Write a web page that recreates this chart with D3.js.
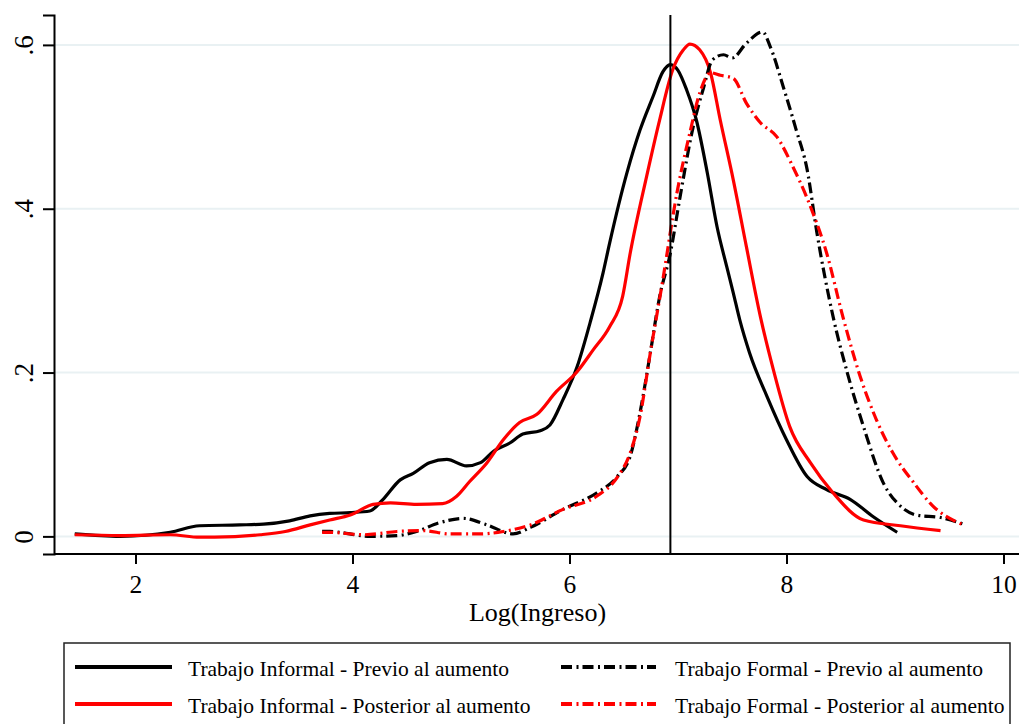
<!DOCTYPE html>
<html>
<head>
<meta charset="utf-8">
<script src="https://cdn.jsdelivr.net/npm/d3@7"></script>
<style>
	body { margin: 0; background: #fff; }
	svg { display: block; font-family: "Liberation Serif", "DejaVu Serif", serif; }
</style>
</head>
<body>
<div id="chart"></div>
<script>
// kernel density estimates (x = log income, y = density)
var infPrevX = [1.44, 1.86, 2.32, 2.59, 2.96, 3.18, 3.42, 3.61, 3.79, 3.98, 4.16, 4.28, 4.44, 4.56, 4.71, 4.87, 5.05, 5.18, 5.30, 5.45, 5.57, 5.73, 5.82, 5.94, 6.07, 6.19, 6.31, 6.37, 6.53, 6.65, 6.77, 6.86, 6.93, 7.00, 7.08, 7.17, 7.27, 7.36, 7.45, 7.51, 7.57, 7.66, 7.82, 8.00, 8.19, 8.37, 8.59, 8.80, 9.02];
var infPrevY = [0.003, 0.000, 0.005, 0.013, 0.014, 0.015, 0.019, 0.025, 0.028, 0.029, 0.031, 0.045, 0.069, 0.077, 0.090, 0.094, 0.086, 0.090, 0.104, 0.114, 0.125, 0.129, 0.136, 0.167, 0.207, 0.261, 0.322, 0.358, 0.444, 0.496, 0.537, 0.567, 0.576, 0.569, 0.545, 0.508, 0.444, 0.378, 0.329, 0.297, 0.264, 0.224, 0.171, 0.118, 0.073, 0.057, 0.045, 0.024, 0.005];

var infPostX = [1.44, 1.86, 2.32, 2.59, 2.73, 3.15, 3.38, 3.61, 3.79, 3.98, 4.19, 4.35, 4.59, 4.83, 4.96, 5.08, 5.24, 5.39, 5.54, 5.70, 5.88, 6.07, 6.22, 6.37, 6.49, 6.56, 6.71, 6.83, 6.95, 7.05, 7.11, 7.20, 7.30, 7.39, 7.51, 7.63, 7.76, 7.88, 8.03, 8.22, 8.43, 8.71, 9.05, 9.42];
var infPostY = [0.002, 0.001, 0.002, -0.001, -0.001, 0.002, 0.006, 0.014, 0.020, 0.026, 0.039, 0.041, 0.039, 0.040, 0.049, 0.067, 0.090, 0.118, 0.139, 0.149, 0.177, 0.201, 0.228, 0.256, 0.293, 0.346, 0.439, 0.508, 0.569, 0.594, 0.601, 0.594, 0.566, 0.508, 0.435, 0.354, 0.268, 0.203, 0.134, 0.090, 0.053, 0.020, 0.013, 0.007];

var forPrevX = [3.72, 3.79, 4.16, 4.41, 4.59, 4.81, 5.02, 5.24, 5.48, 5.64, 5.94, 6.25, 6.44, 6.56, 6.65, 6.74, 6.83, 6.93, 7.02, 7.14, 7.23, 7.32, 7.42, 7.50, 7.63, 7.78, 7.85, 7.97, 8.09, 8.19, 8.28, 8.43, 8.56, 8.71, 8.89, 9.05, 9.20, 9.42, 9.63];
var forPrevY = [0.006, 0.006, 0.000, 0.001, 0.006, 0.017, 0.022, 0.014, 0.003, 0.011, 0.033, 0.053, 0.073, 0.098, 0.151, 0.220, 0.292, 0.346, 0.415, 0.500, 0.545, 0.582, 0.588, 0.584, 0.602, 0.616, 0.598, 0.549, 0.496, 0.448, 0.371, 0.268, 0.200, 0.134, 0.066, 0.037, 0.026, 0.023, 0.015];

var forPostX = [3.72, 3.79, 4.10, 4.41, 4.65, 4.90, 5.18, 5.39, 5.64, 5.94, 6.25, 6.44, 6.56, 6.65, 6.74, 6.86, 6.99, 7.11, 7.20, 7.30, 7.39, 7.51, 7.63, 7.76, 7.91, 8.06, 8.22, 8.37, 8.52, 8.68, 8.83, 8.98, 9.17, 9.35, 9.63];
var forPostY = [0.005, 0.005, 0.002, 0.006, 0.007, 0.003, 0.003, 0.006, 0.014, 0.033, 0.049, 0.072, 0.102, 0.146, 0.220, 0.313, 0.419, 0.493, 0.541, 0.566, 0.563, 0.559, 0.529, 0.505, 0.488, 0.451, 0.403, 0.346, 0.268, 0.195, 0.142, 0.102, 0.066, 0.037, 0.014];

var xTicks = [2, 4, 6, 8, 10];
var yTicks = [0, 0.2, 0.4, 0.6];
var yTickLabels = ["0", ".2", ".4", ".6"];
var cutoff = 6.93; // log of the minimum wage

var seriesNames = ["Trabajo Informal - Previo al aumento", "Trabajo Informal - Posterior al aumento",
	"Trabajo Formal - Previo al aumento", "Trabajo Formal - Posterior al aumento"];

var width = 1019, height = 724;
var margin = {top: 15, right: 0, bottom: 170, left: 54};

var svg = d3.select("#chart").append("svg")
	.attr("width", width)
	.attr("height", height);

var x = d3.scaleLinear()
	.domain([1.249, 10.143])
	.range([margin.left, width - margin.right]);

var y = d3.scaleLinear()
	.domain([-0.0215, 0.6365])
	.range([height - margin.bottom, margin.top]);

// grid lines
svg.append("g").selectAll("line")
	.data(yTicks)
	.enter().append("line")
	.attr("x1", margin.left)
	.attr("x2", width)
	.attr("y1", function(d) { return y(d); })
	.attr("y2", function(d) { return y(d); })
	.attr("stroke", "#e9f1f3")
	.attr("stroke-width", 2);

// axes
var xAxis = svg.append("g")
	.attr("transform", "translate(0," + (height - margin.bottom) + ")")
	.call(d3.axisBottom(x).tickValues(xTicks).tickSize(10).tickPadding(11).tickFormat(d3.format("d")));

var yAxis = svg.append("g")
	.attr("transform", "translate(" + margin.left + ",0)")
	.call(d3.axisLeft(y).tickValues(yTicks).tickSize(11).tickPadding(9)
		.tickFormat(function(d, i) { return yTickLabels[i]; }));

[xAxis, yAxis].forEach(function(g) {
	g.select(".domain").attr("stroke", "#000").attr("stroke-width", 2);
	g.selectAll(".tick line").attr("stroke", "#000").attr("stroke-width", 2);
	g.selectAll("text").attr("fill", "#000").attr("font-size", 25.5)
		.attr("font-family", "Liberation Serif, serif");
});
xAxis.select(".domain").attr("d", "M" + margin.left + ",0H" + width);
yAxis.selectAll(".tick text")
	.attr("x", null).attr("dy", null)
	.attr("font-size", 27)
	.attr("text-anchor", "middle")
	.attr("transform", "translate(-21,0) rotate(-90)");

svg.append("text")
	.attr("x", x(4) + (x(8) - x(4)) / 2 - 32)
	.attr("y", 621)
	.attr("text-anchor", "middle")
	.attr("font-size", 26)
	.text("Log(Ingreso)");

// density curves
var line = d3.line()
	.x(function(d) { return x(d[0]); })
	.y(function(d) { return y(d[1]); })
	.curve(d3.curveMonotoneX);

var dashDot = "11,4.5,2,4";
var series = [
	{xs: infPrevX, ys: infPrevY, color: "#000", dash: null},
	{xs: infPostX, ys: infPostY, color: "#ff0000", dash: null},
	{xs: forPrevX, ys: forPrevY, color: "#000", dash: dashDot},
	{xs: forPostX, ys: forPostY, color: "#ff0000", dash: dashDot}
];

svg.append("g").selectAll("path")
	.data(series)
	.enter().append("path")
	.attr("d", function(s) { return line(d3.zip(s.xs, s.ys)); })
	.attr("fill", "none")
	.attr("stroke", function(s) { return s.color; })
	.attr("stroke-width", 3.2)
	.attr("stroke-dasharray", function(s) { return s.dash; });

// reference line at the minimum wage
svg.append("line")
	.attr("x1", x(cutoff)).attr("x2", x(cutoff))
	.attr("y1", margin.top).attr("y2", height - margin.bottom)
	.attr("stroke", "#000")
	.attr("stroke-width", 2);

// legend
var legend = svg.append("g");
legend.append("rect")
	.attr("x", 64).attr("y", 643)
	.attr("width", 946).attr("height", 120)
	.attr("fill", "#fff")
	.attr("stroke", "#222")
	.attr("stroke-width", 1.5);

var items = legend.selectAll("g.item")
	.data(series)
	.enter().append("g")
	.attr("class", "item")
	.attr("transform", function(d, i) {
		var col = i < 2 ? 0 : 1, row = i % 2;
		return "translate(" + (col === 0 ? 75 : 561) + "," + (667 + row * 37) + ")";
	});

items.append("line")
	.attr("x1", 0).attr("x2", function(d, i) { return i < 2 ? 97 : 95; })
	.attr("stroke", function(s) { return s.color; })
	.attr("stroke-width", 4)
	.attr("stroke-dasharray", function(s) { return s.dash; });

items.append("text")
	.attr("x", function(d, i) { return i < 2 ? 113 : 114; })
	.attr("y", 9)
	.attr("font-size", 21.5)
	.text(function(d, i) { return seriesNames[i]; });
</script>
</body>
</html>
